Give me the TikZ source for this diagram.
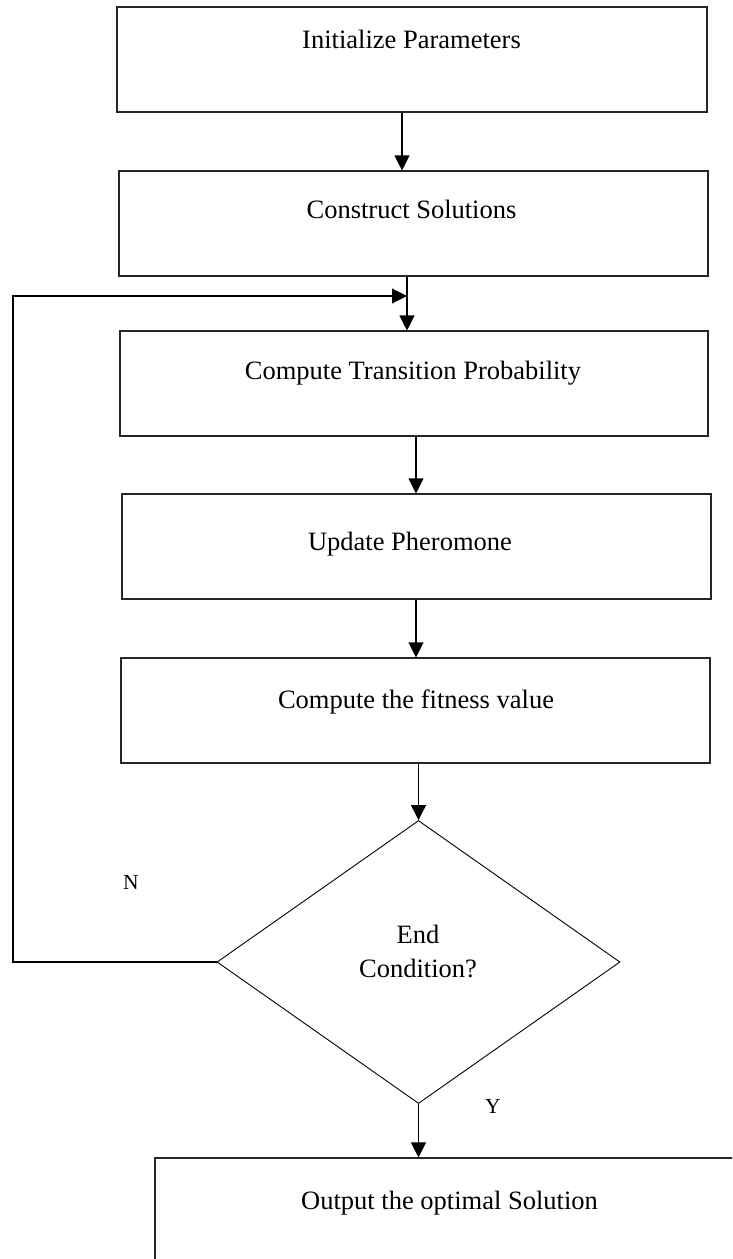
\documentclass[tikz,border=0pt]{standalone}
\usepackage{fontspec}
\setmainfont{Liberation Serif}
\usetikzlibrary{arrows.meta,shapes.geometric}
\begin{document}
\begin{tikzpicture}[x=1pt,y=-1pt,
  box/.style={draw=black!85,line width=1.1pt,rectangle,inner sep=0pt},
  txt/.style={anchor=base,inner sep=0pt,font=\fontsize{26.5}{31}\selectfont},
  lbl/.style={anchor=base,inner sep=0pt,font=\fontsize{21.5}{25}\selectfont},
  arr/.style={draw=black,line width=1.1pt,-{Triangle[length=15pt,width=15pt]}},
  dec/.style={draw=black,line width=0.9pt,diamond,inner sep=0pt}]
\useasboundingbox (0,0) rectangle (732,1259);
\clip (0,0) rectangle (732,1259);
% boxes
\node[box,minimum width=590pt,minimum height=105pt] (b1) at (412,59.5) {};
\node[box,minimum width=589pt,minimum height=105pt] (b2) at (413.5,223.5) {};
\node[box,minimum width=588pt,minimum height=105pt] (b3) at (414,383.5) {};
\node[box,minimum width=589pt,minimum height=105pt] (b4) at (416.5,546.5) {};
\node[box,minimum width=589pt,minimum height=105pt] (b5) at (415.5,710.5) {};
\node[dec,minimum width=403pt,minimum height=283pt] (d) at (418.5,962) {};
\node[box,minimum width=605pt,minimum height=122pt] (b6) at (457.5,1219) {};
% texts
\node[txt] (t1) at (411.5,48) {Initialize Parameters};
\node[txt] (t2) at (411.5,218) {Construct Solutions};
\node[txt] (t3) at (413,379) {Compute Transition Probability};
\node[txt] (t4) at (410,550) {Update Pheromone};
\node[txt] (t5) at (416,708) {Compute the fitness value};
\node[txt] (t6a) at (418,943) {End};
\node[txt] (t6b) at (418,977) {Condition?};
\node[txt] (t7) at (449.5,1209) {Output the optimal Solution};
\node[lbl] (n) at (131,889) {N};
\node[lbl] (y) at (493,1113) {Y};
% connectors
\coordinate (j) at (407,296);
\draw[arr] (b1.south -| 402,0) -- (b2.north -| 402,0);
\draw[arr] (b2.south -| j) -- (b3.north -| j);
\draw[arr] (d.west) -- (13,962) -- (13,296) -- (j);
\draw[arr] (b3.south -| 416,0) -- (b4.north -| 416,0);
\draw[arr] (b4.south -| 416,0) -- (b5.north -| 416,0);
\draw[arr] (b5.south -| d.north) -- (d.north);
\draw[arr] (d.south) -- (b6.north -| d.south);
\end{tikzpicture}
\end{document}
